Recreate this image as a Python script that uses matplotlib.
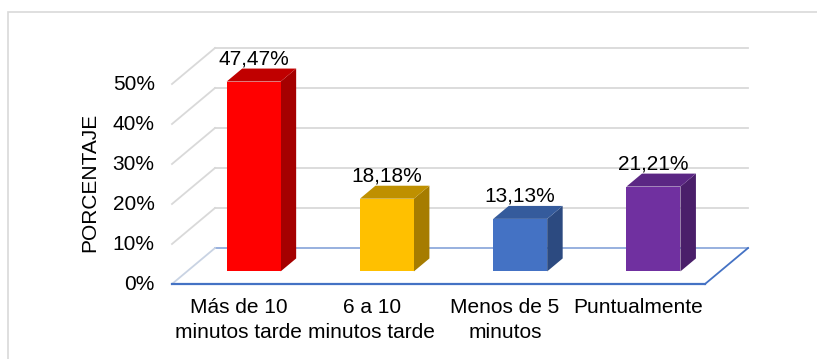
import matplotlib
matplotlib.use("Agg")
import matplotlib.pyplot as plt
from matplotlib.patches import Polygon, Rectangle

plt.rcParams["font.family"] = ["Liberation Sans", "DejaVu Sans"]

# ── Data ──────────────────────────────────────────────────────────────────────
categories = ["Más de 10\nminutos tarde", "6 a 10\nminutos tarde",
              "Menos de 5\nminutos", "Puntualmente"]
values = [47.47, 18.18, 13.13, 21.21]
value_labels = ["47,47%", "18,18%", "13,13%", "21,21%"]
ticks = [0, 10, 20, 30, 40, 50]
tick_labels = ["0%", "10%", "20%", "30%", "40%", "50%"]

face_colors = ["#ff0000", "#ffc000", "#4472c4", "#7030a0"]
side_colors = ["#a50000", "#a67c00", "#2c4a80", "#4a1f6a"]
top_colors = ["#c00000", "#bf9000", "#355b9c", "#5b2784"]

# ── Pseudo-3D geometry (data units) ──────────────────────────────────────────
DX, DY = 0.323, 9.0        # full depth of the floor box
D0, BD = 0.35, 0.36        # bar front position / bar depth (fraction of DX, DY)
BAR_W = 0.405
FONT = 15
GRID = "#d9d9d9"

fig = plt.figure(figsize=(8.17, 3.59), dpi=100)
ax = fig.add_axes([0, 0, 1, 1])
ax.set_xlim(-1.7906, 4.3404)
ax.set_ylim(-18.75, 71.0)
ax.axis("off")

# chart area border
fig.patches.append(Rectangle((8 / 817, -0.2), 1.0, 1.2 - 12 / 359,
                             transform=fig.transFigure, fill=False,
                             edgecolor=GRID, linewidth=1.2))

x0, x1 = -0.5, len(values) - 0.5

# back wall + left wall gridlines
for t in ticks[1:]:
    ax.plot([x0 + DX, x1 + DX], [t + DY, t + DY], color=GRID, lw=1.3, zorder=1)
    ax.plot([x0, x0 + DX], [t, t + DY], color=GRID, lw=1.3, zorder=1)

# floor
ax.plot([x0 + DX, x1 + DX], [DY, DY], color="#8faadc", lw=1.3, zorder=1)
ax.plot([x0, x0 + DX], [0, DY], color="#c9d3e3", lw=1.3, zorder=1)
ax.plot([x1, x1 + DX], [0, DY], color="#4472c4", lw=1.3, zorder=1)
ax.plot([x0, x1], [0, 0], color="#4472c4", lw=1.6, zorder=1)

# bars
for i, v in enumerate(values):
    xl = i - BAR_W / 2 + D0 * DX
    xr = xl + BAR_W
    base = D0 * DY
    top = base + v
    ox, oy = BD * DX, BD * DY
    ax.add_patch(Polygon([(xr, base), (xr + ox, base + oy),
                          (xr + ox, top + oy), (xr, top)],
                         closed=True, facecolor=side_colors[i], edgecolor="none", zorder=3))
    ax.add_patch(Polygon([(xl, top), (xr, top), (xr + ox, top + oy), (xl + ox, top + oy)],
                         closed=True, facecolor=top_colors[i], edgecolor="none", zorder=3))
    ax.add_patch(Rectangle((xl, base), BAR_W, v, facecolor=face_colors[i],
                           edgecolor="none", zorder=4))
    ax.text(i + D0 * DX, top + oy + 2.4, value_labels[i], ha="center", va="center",
            fontsize=FONT, zorder=5)

# y tick labels on the front plane
for t, lab in zip(ticks, tick_labels):
    ax.text(x0 - 0.13, t, lab, ha="right", va="center", fontsize=FONT)

ax.text(-1.115, 25.5, "PORCENTAJE", rotation=90, ha="center", va="center",
        fontsize=FONT)

# category labels
for i, c in enumerate(categories):
    ax.text(i, -3.6, c, ha="center", va="top", fontsize=FONT, linespacing=1.35)

fig.savefig("out.png", dpi=100)
